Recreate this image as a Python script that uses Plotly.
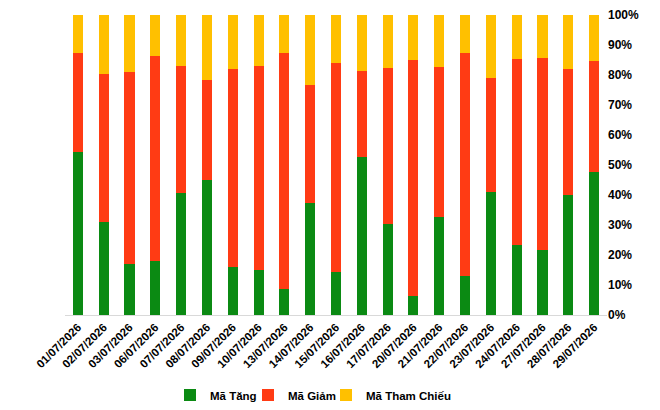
import plotly.graph_objects as go

dates = ["01/07/2026", "02/07/2026", "03/07/2026", "06/07/2026", "07/07/2026", "08/07/2026",
         "09/07/2026", "10/07/2026", "13/07/2026", "14/07/2026", "15/07/2026", "16/07/2026",
         "17/07/2026", "20/07/2026", "21/07/2026", "22/07/2026", "23/07/2026", "24/07/2026",
         "27/07/2026", "28/07/2026", "29/07/2026"]

ma_tang = [54.3, 31.1, 16.9, 18.0, 40.6, 45.0, 16.1, 14.9, 8.8, 37.2, 14.4,
           52.6, 30.4, 6.3, 32.6, 12.9, 41.1, 23.4, 21.8, 40.1, 47.8]
ma_giam = [33.1, 49.3, 64.2, 68.3, 42.5, 33.4, 65.9, 68.2, 78.5, 39.6, 69.7,
           28.8, 51.9, 78.8, 50.2, 74.5, 37.8, 61.9, 63.9, 42.0, 36.9]
ma_tham_chieu = [12.6, 19.6, 18.9, 13.7, 16.9, 21.6, 18.0, 16.9, 12.7, 23.2, 15.9,
                 18.6, 17.7, 14.9, 17.2, 12.6, 21.1, 14.7, 14.3, 17.9, 15.3]

y_ticks = [0, 10, 20, 30, 40, 50, 60, 70, 80, 90, 100]
y_tick_text = [f"{v}%" for v in y_ticks]

FONT = "'Liberation Sans', Arial, sans-serif"
W, H = 660, 410

series = [("Mã Tăng", ma_tang, "#0B8A13", "legend", 170),
          ("Mã Giảm", ma_giam, "#FF3B14", "legend2", 248),
          ("Mã Tham Chiếu", ma_tham_chieu, "#FFC000", "legend3", 326)]

fig = go.Figure()
legends = {}
for name, vals, color, lg, left in series:
    fig.add_trace(go.Bar(x=dates, y=vals, name=name, marker_color=color,
                         marker_line_width=0, legend=lg))
    legends[lg] = dict(orientation="h", xref="container", yref="container",
                       x=left / W, xanchor="left", y=15 / H, yanchor="middle",
                       font=dict(size=11.5, weight="bold"), itemwidth=30,
                       bgcolor="rgba(0,0,0,0)")

fig.update_layout(
    barmode="stack",
    bargap=0.61,
    width=W, height=H,
    margin=dict(l=65, r=53, t=15, b=95, autoexpand=False),
    paper_bgcolor="white", plot_bgcolor="white",
    font=dict(family=FONT, color="black"),
    showlegend=True,
    xaxis=dict(tickangle=-45, tickfont=dict(size=11.5, weight="bold"),
               showline=True, linecolor="#D9D9D9", linewidth=1, automargin=False,
               showgrid=False, ticks="", range=[-0.5, 20.5]),
    yaxis=dict(side="right", range=[0, 100], tickvals=y_ticks, ticktext=y_tick_text,
               tickfont=dict(size=12, weight="bold"), showgrid=False, automargin=False,
               zeroline=False, showline=False, ticks=""),
    **legends,
)

fig.write_html("out.html")
